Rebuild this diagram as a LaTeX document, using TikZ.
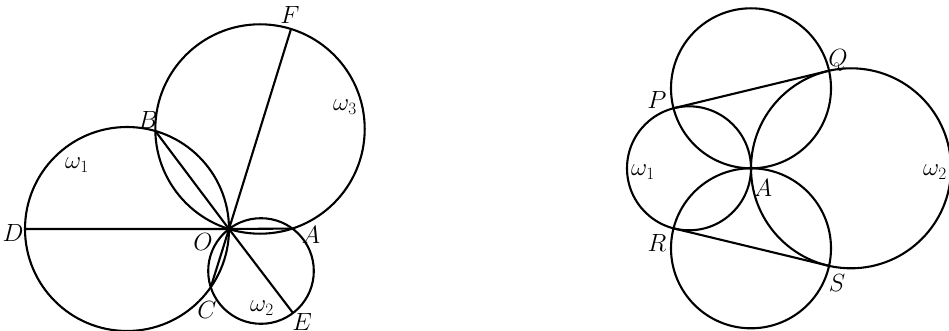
\documentclass[tikz,border=0pt]{standalone}
\usetikzlibrary{calc}
\begin{document}
\begin{tikzpicture}[x=1pt,y=-1pt,
  geo/.style={line width=2.1pt},
  lbl/.style={inner sep=0pt,font=\fontsize{23}{26}\selectfont}]
\useasboundingbox (0,0) rectangle (949,331);
% ---------- left figure ----------
\coordinate (O) at (229,229);
\coordinate (c1) at (127,229);
\coordinate (c2) at (261,271);
\coordinate (c3) at (260,129);
\coordinate (D) at ($(O)!2!(c1)$);
\coordinate (E) at ($(O)!2!(c2)$);
\coordinate (F) at ($(O)!2!(c3)$);
\coordinate (fB) at ($(c1)!(O)!(c3)$);
\coordinate (fC) at ($(c1)!(O)!(c2)$);
\coordinate (fA) at ($(c2)!(O)!(c3)$);
\coordinate (B) at ($(O)!2!(fB)$);
\coordinate (C) at ($(O)!2!(fC)$);
\coordinate (A) at ($(O)!2!(fA)$);
\draw[geo] (c1) circle[radius=102pt];
\draw[geo] (c2) circle[radius=52.8pt];
\draw[geo] (c3) circle[radius=104.7pt];
\draw[geo] (D) -- (O) -- (A);
\draw[geo] (B) -- (O) -- (E);
\draw[geo] (F) -- (O) -- (C);
\node[lbl] (lF) at (290,15) {$F$};
\node[lbl] (lw3) at (345,107) {$\omega_3$};
\node[lbl] (lB) at (148,120) {$B$};
\node[lbl] (lw1) at (77,165) {$\omega_1$};
\node[lbl] (lD) at (13,233) {$D$};
\node[lbl] (lO) at (203,242) {$O$};
\node[lbl] (lA) at (311,235) {$A$};
\node[lbl] (lC) at (207,310) {$C$};
\node[lbl] (lw2) at (262,308) {$\omega_2$};
\node[lbl] (lE) at (302,322) {$E$};
% ---------- right figure ----------
\coordinate (A2) at (751,168.3);
\coordinate (T) at (751,88.3);
\coordinate (U) at (751,248.3);
\coordinate (k1) at (689,168.3);
\coordinate (k2) at (851,168.3);
\coordinate (fP) at ($(T)!(A2)!(k1)$);
\coordinate (fQ) at ($(T)!(A2)!(k2)$);
\coordinate (fR) at ($(U)!(A2)!(k1)$);
\coordinate (fS) at ($(U)!(A2)!(k2)$);
\coordinate (P) at ($(A2)!2!(fP)$);
\coordinate (Q) at ($(A2)!2!(fQ)$);
\coordinate (R) at ($(A2)!2!(fR)$);
\coordinate (S) at ($(A2)!2!(fS)$);
\draw[geo] (T) circle[radius=80pt];
\draw[geo] (U) circle[radius=80pt];
\draw[geo] (k1) circle[radius=62pt];
\draw[geo] (k2) circle[radius=100pt];
\draw[geo] (P) -- (Q);
\draw[geo] (R) -- (S);
\node[lbl] (lP) at (657,100) {$P$};
\node[lbl] (lQ) at (838,60) {$Q$};
\node[lbl] (lv1) at (643,172) {$\omega_1$};
\node[lbl] (lA2) at (763,188) {$A$};
\node[lbl] (lR) at (657,243) {$R$};
\node[lbl] (lS) at (837,283) {$S$};
\node[lbl] (lv2) at (935,172) {$\omega_2$};
\end{tikzpicture}
\end{document}
